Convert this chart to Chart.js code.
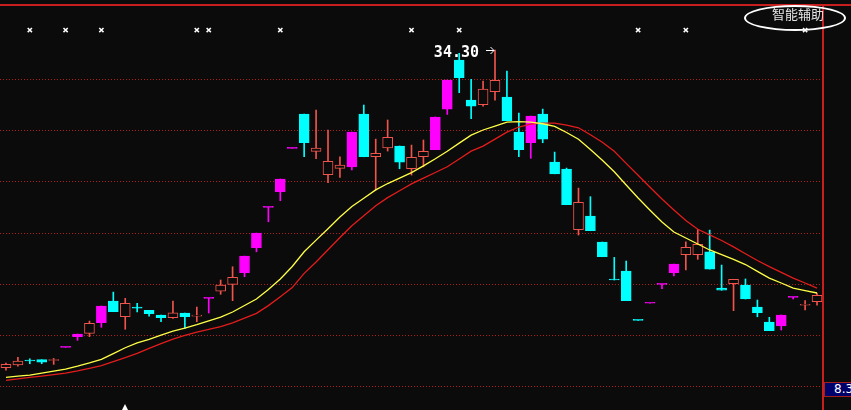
<!DOCTYPE html>
<html>
<head>
<meta charset="utf-8">
<script src="https://cdn.jsdelivr.net/npm/chart.js@4.4.0/dist/chart.umd.min.js"></script>
<style>
html, body { margin: 0; padding: 0; background: #0b0b0b; overflow: hidden; }
#wrap { position: relative; width: 851px; height: 410px; background: #0b0b0b; }
#kline { position: absolute; left: 0; top: 0; }
.topline { position: absolute; left: 0; top: 4px; width: 851px; height: 2px; background: #c81e1e; }
.rline { position: absolute; left: 822px; top: 5px; width: 2px; height: 405px; background: #c81e1e; }
.oval { position: absolute; left: 744px; top: 5px; width: 102px; height: 26px; box-sizing: border-box;
        border: 2px solid #fff; border-radius: 50%; }
.zn { position: absolute; left: 772px; top: 5px; color: #e4e4e4; font: 13px "Noto Sans CJK SC"; line-height: 17px; }
.pbox { position: absolute; left: 824px; top: 382px; width: 30px; height: 15px; box-sizing: border-box;
        background: #00006a; border: 1px solid #a02020; border-right: none; color: #fff;
        font: 12px "DejaVu Sans"; line-height: 13px; padding-left: 9px; }
.cur { position: absolute; left: 122px; top: 404px; width: 0; height: 0;
       border-left: 3px solid transparent; border-right: 3px solid transparent; border-bottom: 6px solid #fff; }
</style>
</head>
<body>
<div id="wrap">
  <canvas id="kline" width="823" height="410"></canvas>
  <div class="topline"></div>
  <div class="rline"></div>
  <div class="oval"></div>
  <div class="zn">智能辅助</div>
  <div class="pbox">8.3</div>
  <div class="cur"></div>
</div>
<script>
// daily candles
var opens = [9.86, 10.07, 10.40, 10.48, 10.42, 11.43, 12.25, 12.51, 13.32, 14.99,
  13.78, 14.47, 14.28, 13.92, 13.71, 14.07, 13.83, 15.20, 15.76, 16.28,
  17.17, 19.09, 22.20, 23.40, 26.74, 29.38, 26.51, 24.71, 25.20, 25.30,
  29.38, 26.09, 26.78, 26.92, 25.17, 26.09, 26.63, 29.76, 33.53, 30.45,
  30.09, 31.09, 30.68, 27.99, 27.17, 29.38, 25.68, 25.15, 20.48, 21.53,
  19.53, 16.61, 17.30, 13.51, 14.82, 16.28, 17.17, 18.55, 18.55, 18.78,
  15.99, 16.32, 16.22, 14.53, 13.38, 13.07, 15.28, 14.67, 14.94];
var highs = [10.22, 10.66, 10.55, 10.48, 10.58, 11.43, 12.45, 13.45, 14.61, 15.68,
  15.20, 14.82, 14.28, 13.92, 14.99, 14.07, 14.53, 15.20, 16.61, 17.63,
  18.45, 20.22, 22.20, 24.38, 26.74, 29.38, 29.68, 28.15, 26.09, 27.99,
  30.07, 27.45, 28.92, 26.92, 26.99, 27.38, 29.15, 31.99, 34.05, 32.05,
  31.92, 34.30, 32.68, 29.45, 29.22, 29.76, 26.45, 25.22, 23.68, 23.02,
  19.53, 18.35, 18.07, 13.51, 14.82, 16.28, 17.84, 19.55, 20.51, 20.45,
  17.76, 16.66, 16.69, 15.07, 13.74, 13.92, 15.28, 15.02, 15.58];
var lows = [9.68, 9.99, 10.17, 10.17, 10.12, 11.43, 11.97, 12.25, 12.97, 14.17,
  12.82, 14.15, 13.82, 13.40, 13.66, 12.89, 13.40, 14.07, 15.51, 15.02,
  16.86, 18.78, 21.09, 22.71, 26.74, 26.09, 25.94, 24.09, 24.51, 25.07,
  26.09, 23.53, 26.53, 25.17, 24.68, 25.32, 26.63, 29.35, 31.02, 29.02,
  29.99, 30.45, 28.86, 26.09, 25.97, 27.17, 24.78, 22.40, 20.07, 20.40,
  18.40, 16.61, 15.02, 13.51, 14.82, 15.94, 16.92, 17.38, 18.20, 17.45,
  15.82, 14.25, 15.15, 13.78, 12.71, 12.76, 15.15, 14.30, 14.68];
var closes = [10.12, 10.38, 10.38, 10.28, 10.43, 11.43, 12.45, 13.28, 14.61, 14.17,
  14.82, 14.45, 14.02, 13.71, 14.09, 13.78, 13.84, 15.20, 16.22, 16.82,
  18.45, 20.22, 22.20, 24.38, 26.74, 27.17, 26.76, 25.74, 25.45, 27.99,
  26.09, 26.35, 27.58, 25.68, 26.05, 26.51, 29.15, 31.99, 32.17, 29.99,
  31.30, 31.97, 28.86, 26.63, 29.22, 27.45, 24.78, 22.40, 22.58, 20.40,
  18.40, 16.61, 15.02, 13.51, 14.82, 16.28, 17.84, 19.12, 19.35, 17.45,
  15.82, 16.66, 15.15, 14.09, 12.71, 13.92, 15.28, 14.68, 15.43];

// the two moving averages
var maYellow = [9.12, 9.21, 9.30, 9.45, 9.60, 9.76, 9.98, 10.23, 10.51, 10.95,
  11.40, 11.78, 12.05, 12.37, 12.67, 12.91, 13.17, 13.46, 13.76, 14.15,
  14.65, 15.15, 15.88, 16.69, 17.65, 18.78, 19.68, 20.55, 21.45, 22.26,
  22.90, 23.54, 24.03, 24.45, 24.87, 25.39, 25.94, 26.52, 27.14, 27.75,
  28.15, 28.45, 28.76, 28.80, 28.75, 28.63, 28.42, 27.96, 27.44, 26.65,
  25.82, 24.94, 23.92, 22.92, 21.98, 21.07, 20.30, 19.84, 19.38, 18.92,
  18.56, 18.20, 17.80, 17.27, 16.76, 16.38, 15.98, 15.80, 15.61];
var maRed = [8.89, 9.00, 9.12, 9.22, 9.33, 9.45, 9.62, 9.82, 10.03, 10.33,
  10.64, 10.97, 11.35, 11.72, 12.06, 12.35, 12.60, 12.82, 13.03, 13.32,
  13.68, 14.04, 14.64, 15.32, 16.03, 17.12, 18.00, 18.94, 19.88, 20.78,
  21.55, 22.33, 22.95, 23.48, 24.00, 24.45, 24.88, 25.32, 25.92, 26.52,
  26.91, 27.45, 27.99, 28.38, 28.60, 28.68, 28.68, 28.52, 28.32, 27.78,
  27.21, 26.51, 25.58, 24.67, 23.75, 22.84, 22.00, 21.18, 20.51, 20.08,
  19.65, 19.16, 18.63, 18.11, 17.64, 17.20, 16.75, 16.38, 15.99];

// signal marks (day numbers) drawn along the top
var markDays = [3, 6, 9, 17, 18, 24, 35, 39, 54, 58, 68];
var markLevel = 35.84;

var gridLevels = [8.43, 12.35, 16.28, 20.22, 24.16, 28.11, 32.05];
var yMin = 6.61, yMax = 38.15;

var RED = '#f0544c', CYAN = '#00ffff', MAGENTA = '#ff00ff', BG = '#0b0b0b';

var days = [];
for (let i = 0; i < closes.length; i++) days.push(i + 1);

function candleColor(i)
{
    var prev = i > 0 ? closes[i - 1] : opens[i];
    if (i > 0 && closes[i] >= prev * 1.085) return MAGENTA;   // limit up
    if (closes[i] > opens[i]) return RED;
    if (closes[i] < opens[i]) return CYAN;
    return closes[i] >= prev ? RED : CYAN;
}

var colors = [], fills = [], bodies = [], wicks = [], marks = [];
for (let i = 0; i < closes.length; i++)
{
    colors.push(candleColor(i));
    fills.push(colors[i] == RED ? BG : colors[i]);   // red candles are hollow
    bodies.push([opens[i], closes[i]]);
    wicks.push([lows[i], highs[i]]);
    marks.push(markDays.indexOf(i + 1) >= 0 ? markLevel : null);
}

var highNote = {
    id: 'highNote',
    afterDatasetsDraw: function(chart) {
        var ctx = chart.ctx;
        var top = 0;
        for (let i = 1; i < highs.length; i++) if (highs[i] > highs[top]) top = i;
        var px = Math.round(chart.scales.x.getPixelForValue(top));
        var py = Math.round(chart.scales.y.getPixelForValue(highs[top]));
        ctx.save();
        ctx.fillStyle = '#fff';
        ctx.font = 'bold 15px "DejaVu Sans Mono"';
        ctx.textAlign = 'right';
        ctx.textBaseline = 'middle';
        ctx.fillText(highs[top].toFixed(2), px - 16, py + 3);
        ctx.strokeStyle = '#fff';
        ctx.lineWidth = 1;
        ctx.beginPath();
        ctx.moveTo(px - 9, py + 0.5);
        ctx.lineTo(px - 1, py + 0.5);
        ctx.moveTo(px - 4.5, py - 3);
        ctx.lineTo(px - 1, py + 0.5);
        ctx.lineTo(px - 4.5, py + 4);
        ctx.stroke();
        ctx.restore();
    }
};

new Chart(document.getElementById('kline'), {
    type: 'bar',
    data: {
        labels: days,
        datasets: [
            { type: 'line', data: maYellow, borderColor: '#ffff46', borderWidth: 1.3, pointRadius: 0, order: 0 },
            { type: 'line', data: maRed, borderColor: '#e41c1c', borderWidth: 1.3, pointRadius: 0, order: 0 },
            { type: 'line', data: marks, showLine: false, pointStyle: 'crossRot', pointRadius: 3,
              pointBorderColor: '#fff', pointBorderWidth: 1.5, order: 0 },
            { data: bodies, backgroundColor: fills, borderColor: colors, borderWidth: 1,
              borderSkipped: false, barThickness: 10, minBarLength: 1, grouped: false, order: 1 },
            { data: wicks, backgroundColor: colors, barThickness: 1, grouped: false, order: 2 }
        ]
    },
    options: {
        responsive: false,
        animation: false,
        events: [],
        layout: { padding: 0, autoPadding: false },
        plugins: { legend: { display: false }, tooltip: { enabled: false } },
        scales: {
            x: { display: false, offset: true },
            y: {
                min: yMin, max: yMax,
                afterBuildTicks: function(s) { s.ticks = gridLevels.map(function(v) { return { value: v }; }); },
                afterFit: function(s) { s.width = 0; },
                ticks: { display: false },
                grid: { color: '#b01e1e', lineWidth: 1, drawTicks: false },
                border: { display: false, dash: [1, 2] }
            }
        }
    },
    plugins: [highNote]
});
</script>
</body>
</html>
